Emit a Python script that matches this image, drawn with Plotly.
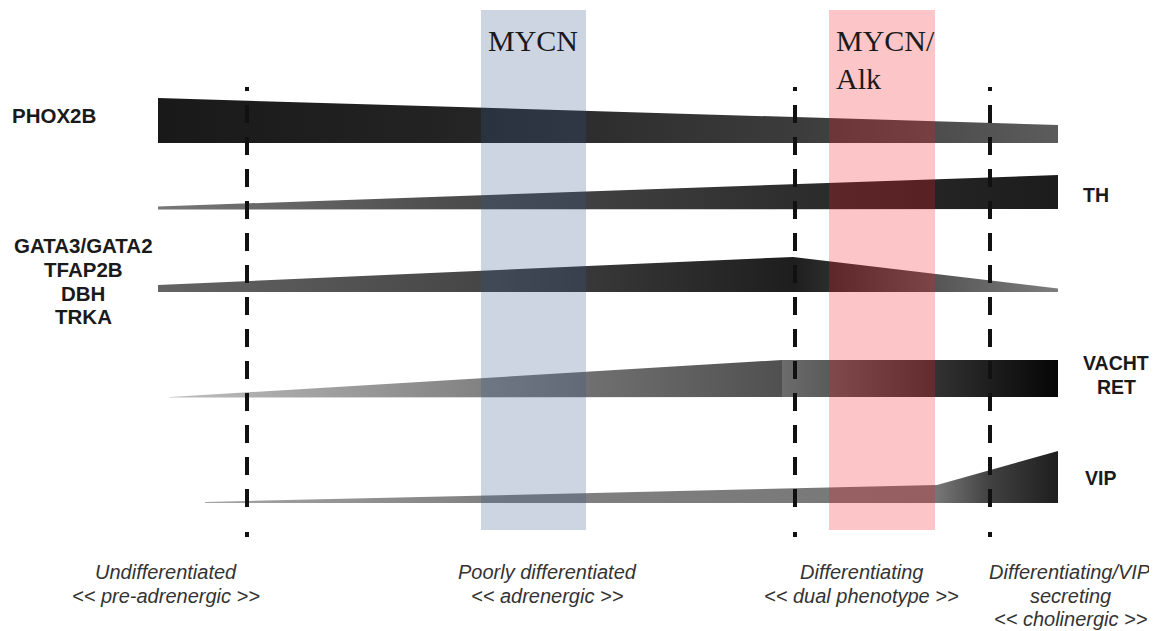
import plotly.graph_objects as go

# ---------------- data ----------------
# Gene expression bands: key x positions, upper / lower edges, grey shade stops (0=black, 255=white)
PHOX2B_X = [158, 1058]
PHOX2B_TOP = [98, 125]
PHOX2B_BOT = [143, 143]
PHOX2B_SHADE_X = [158, 440, 800, 1058]
PHOX2B_SHADE = [25, 35, 60, 92]

TH_X = [158, 1058]
TH_TOP = [206.5, 175]
TH_BOT = [209.5, 209]
TH_SHADE_X = [158, 440, 800, 1058]
TH_SHADE = [120, 78, 45, 28]

GATA_X = [158, 793, 1058]
GATA_TOP = [285, 257, 288.5]
GATA_BOT = [292, 292, 292]
GATA_SHADE_X = [158, 480, 793, 935, 1058]
GATA_SHADE = [100, 70, 30, 85, 125]

VACHT_X = [170, 782, 782, 1058]
VACHT_TOP = [397, 360, 360, 360]
VACHT_BOT = [397.5, 397, 397, 397]
VACHT_SHADE_X = [170, 480, 782, 782, 935, 1058]
VACHT_SHADE = [190, 130, 80, 108, 50, 5]

VIP_X = [205, 937, 1058]
VIP_TOP = [502, 485, 451]
VIP_BOT = [503, 503, 503]
VIP_SHADE_X = [205, 480, 937, 990, 1058]
VIP_SHADE = [165, 130, 118, 65, 30]

BANDS = [
    (PHOX2B_X, PHOX2B_TOP, PHOX2B_BOT, PHOX2B_SHADE_X, PHOX2B_SHADE),
    (TH_X, TH_TOP, TH_BOT, TH_SHADE_X, TH_SHADE),
    (GATA_X, GATA_TOP, GATA_BOT, GATA_SHADE_X, GATA_SHADE),
    (VACHT_X, VACHT_TOP, VACHT_BOT, VACHT_SHADE_X, VACHT_SHADE),
    (VIP_X, VIP_TOP, VIP_BOT, VIP_SHADE_X, VIP_SHADE),
]

# Stage dividers
DIVIDER_X = [247, 795, 990]
DIVIDER_Y = [87, 537]

# Highlight boxes
BOX_LABELS = [["MYCN"], ["MYCN/", "Alk"]]
BOX_X0 = [481, 829]
BOX_X1 = [586, 935]
BOX_Y = [10, 530]
BOX_COLORS = ["rgba(57,89,140,0.25)", "rgba(245,25,35,0.25)"]

# Gene labels
LEFT_LABELS = ["PHOX2B"]
LEFT_LABEL_Y = [115]
GATA_LABELS = ["GATA3/GATA2", "TFAP2B", "DBH", "TRKA"]
GATA_LABEL_Y = [245, 269, 293, 316]
RIGHT_LABELS = ["TH", "VACHT", "RET", "VIP"]
RIGHT_LABEL_X = [1096, 1116, 1116, 1100]
RIGHT_LABEL_Y = [195, 363, 387, 478]

# Stage labels
STAGE_X = [166, 547, 861, 1070]
STAGE_LINES = [
    ["Undifferentiated", "<< pre-adrenergic >>"],
    ["Poorly differentiated", "<< adrenergic >>"],
    ["Differentiating", "<< dual phenotype >>"],
    ["Differentiating/VIP", "secreting", "<< cholinergic >>"],
]
STAGE_LINE_Y = [572, 596, 619]

# ---------------- figure ----------------
# page body has an 8px margin: axes are set so data units equal page pixels
OFFSET = 8
PAGE_W, PAGE_H = 1157, 631

fig = go.Figure()


def grey(v):
    v = int(round(v))
    return f"rgb({v},{v},{v})"


for bx, btop, bbot, sx, sv in BANDS:
    xs = list(bx) + list(reversed(bx)) + [bx[0]]
    ys = list(btop) + list(reversed(bbot)) + [btop[0]]
    x0, x1 = sx[0], sx[-1]
    cs = [[(x - x0) / (x1 - x0), grey(v)] for x, v in zip(sx, sv)]
    fig.add_trace(go.Scatter(
        x=xs, y=ys, mode="lines", fill="toself",
        line=dict(width=0, color=grey(sv[-1])),
        fillgradient=dict(type="horizontal", colorscale=cs, start=x0, stop=x1),
        hoverinfo="skip", showlegend=False,
    ))

# dashed stage dividers (dot, dashes, dot)
dash_pattern = "4px,14px," + "18px,14px," * 12 + "18px,25px,5px,60px"
for dx in DIVIDER_X:
    fig.add_shape(type="line", x0=dx, x1=dx, y0=DIVIDER_Y[0], y1=DIVIDER_Y[1],
                  line=dict(color="#111111", width=4, dash=dash_pattern), layer="above")

# highlight boxes
for x0, x1, col, lines in zip(BOX_X0, BOX_X1, BOX_COLORS, BOX_LABELS):
    fig.add_shape(type="rect", x0=x0, x1=x1, y0=BOX_Y[0], y1=BOX_Y[1],
                  fillcolor=col, line=dict(width=0), layer="above")
    for i, t in enumerate(lines):
        fig.add_annotation(x=x0 + 5, y=40 + 38 * i, text=t, showarrow=False,
                           xanchor="left", yanchor="middle",
                           font=dict(family="Liberation Serif", size=30, color="#1a1a1a"))

bold = dict(family="Liberation Sans", size=20.5, color="#1a1a1a", weight="bold")
bold_r = dict(family="Liberation Sans", size=19.5, color="#1a1a1a", weight="bold")
for t, y in zip(LEFT_LABELS, LEFT_LABEL_Y):
    fig.add_annotation(x=10, y=y, text=t, showarrow=False, xanchor="left",
                       yanchor="middle", font=bold)
for t, y in zip(GATA_LABELS, GATA_LABEL_Y):
    fig.add_annotation(x=83, y=y, text=t, showarrow=False, xanchor="center",
                       yanchor="middle", font=bold)
for t, x, y in zip(RIGHT_LABELS, RIGHT_LABEL_X, RIGHT_LABEL_Y):
    fig.add_annotation(x=x, y=y, text=t, showarrow=False, xanchor="center",
                       yanchor="middle", font=bold_r)

ital = dict(family="Liberation Sans", size=20, color="#333333", style="italic")
for x, lines in zip(STAGE_X, STAGE_LINES):
    for t, y in zip(lines, STAGE_LINE_Y):
        fig.add_annotation(x=x, y=y, text=t, showarrow=False, xanchor="center",
                           yanchor="middle", font=ital)

fig.update_layout(
    width=PAGE_W - OFFSET, height=PAGE_H - OFFSET,
    margin=dict(l=0, r=0, t=0, b=0),
    paper_bgcolor="white", plot_bgcolor="white",
    xaxis=dict(range=[OFFSET, PAGE_W], visible=False, fixedrange=True),
    yaxis=dict(range=[PAGE_H, OFFSET], visible=False, fixedrange=True),
    showlegend=False,
)

fig.write_html("out.html")
